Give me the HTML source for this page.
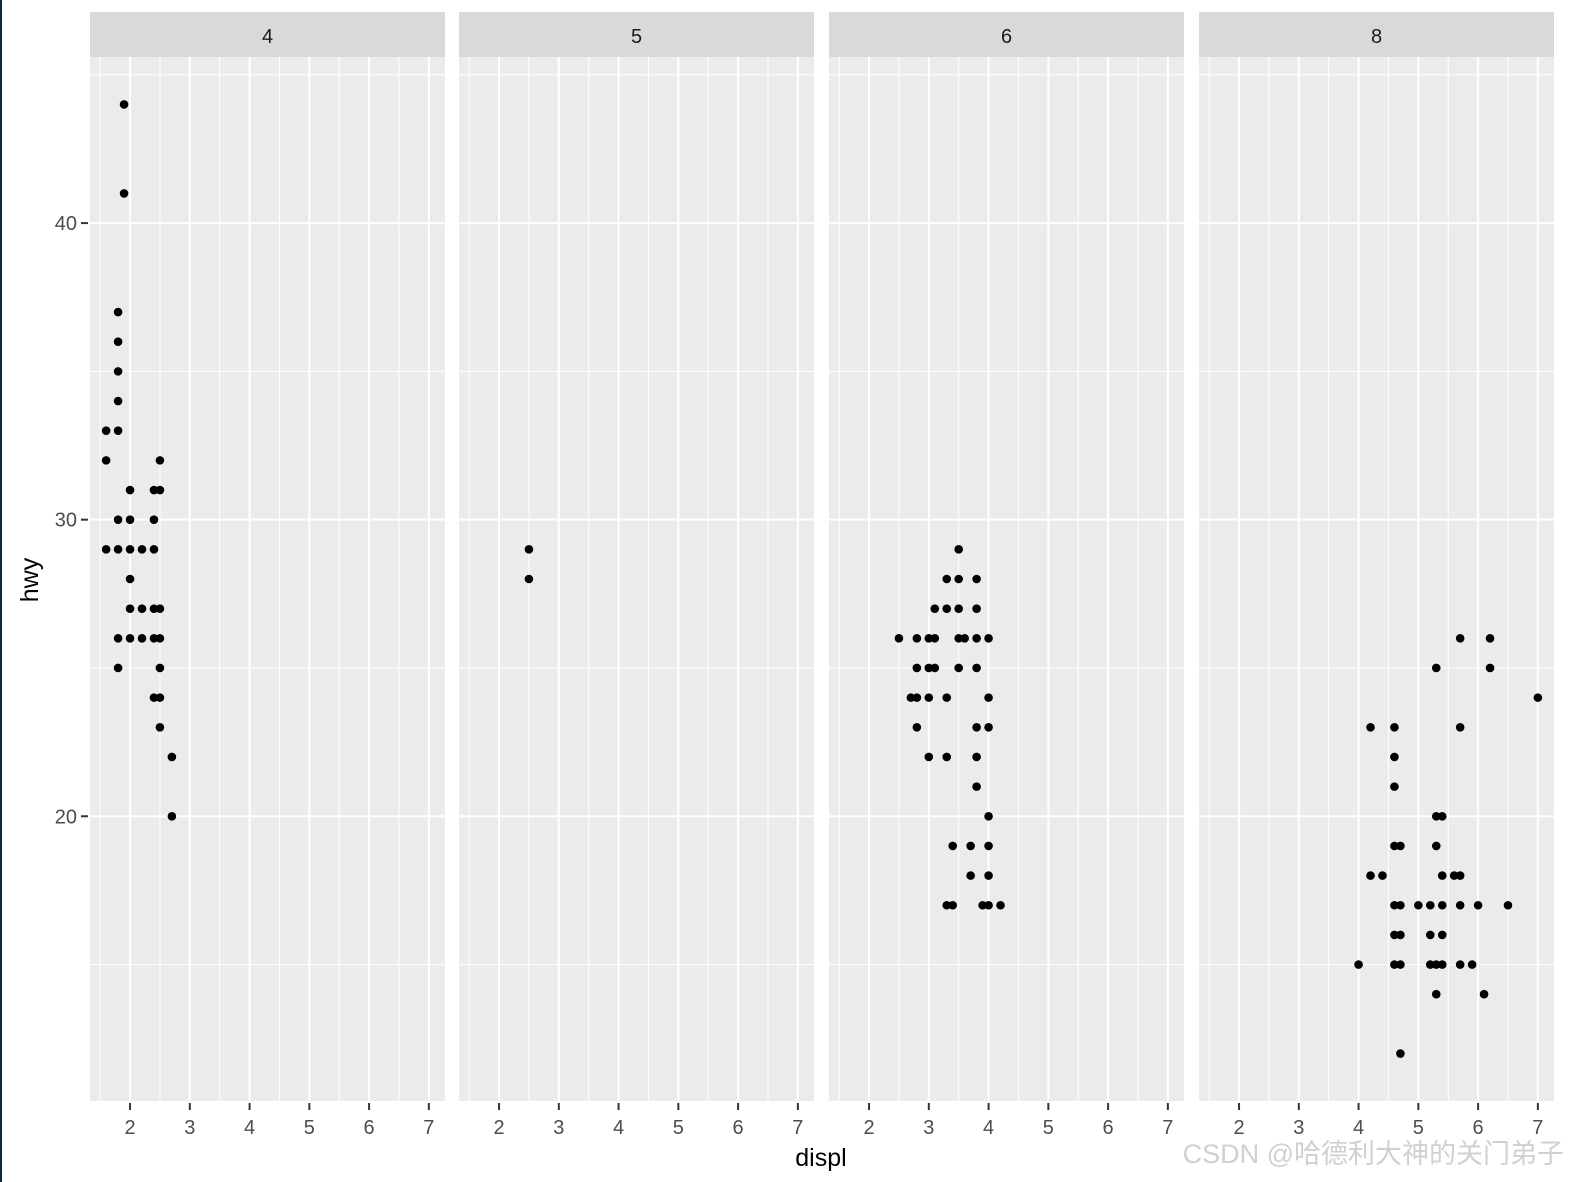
<!DOCTYPE html>
<html><head><meta charset="utf-8">
<style>
html,body{margin:0;padding:0;background:#fff;}
svg{display:block;font-family:"Liberation Sans","Noto Sans CJK SC",sans-serif;}
</style></head>
<body>
<svg id="chart" width="1572" height="1182" viewBox="0 0 1572 1182" xmlns="http://www.w3.org/2000/svg">
<rect x="0" y="0" width="2" height="1182" fill="#0f2a44"/>
</svg>
<script>
const facets = ["4","5","6","8"];
const displ4 = [1.9,1.9,1.8,1.8,1.8,1.8,1.6,1.8,1.6,2.5,2.0,2.4,2.5,1.8,2.0,2.4,1.6,1.8,2.0,2.2,2.4,2.0,2.0,2.2,2.4,2.5,1.8,2.0,2.2,2.4,2.5,1.8,2.5,2.4,2.5,2.5,2.7,2.7];
const hwy4   = [44,41,37,36,35,34,33,33,32,32,31,31,31,30,30,30,29,29,29,29,29,28,27,27,27,27,26,26,26,26,26,25,25,24,24,23,22,20];
const displ5 = [2.5,2.5];
const hwy5   = [29,28];
const displ6 = [2.5,2.7,2.8,2.8,2.8,2.8,3.0,3.0,3.0,3.0,3.1,3.1,3.1,3.3,3.3,3.3,3.3,3.3,3.4,3.4,3.5,3.5,3.5,3.5,3.5,3.6,3.7,3.7,3.8,3.8,3.8,3.8,3.8,3.8,3.8,3.9,4.0,4.0,4.0,4.0,4.0,4.0,4.0,4.2];
const hwy6   = [26,24,26,25,24,23,26,25,24,22,27,26,25,28,27,24,22,17,17,19,29,28,27,26,25,26,19,18,28,27,26,25,23,22,21,17,26,24,23,20,19,18,17,17];
const displ8 = [4.0,4.2,4.2,4.4,4.6,4.6,4.6,4.6,4.6,4.6,4.6,4.7,4.7,4.7,4.7,4.7,5.0,5.2,5.2,5.2,5.3,5.3,5.3,5.3,5.3,5.4,5.4,5.4,5.4,5.4,5.6,5.7,5.7,5.7,5.7,5.7,5.9,6.0,6.1,6.2,6.2,6.5,7.0];
const hwy8   = [15,23,18,18,23,22,21,19,17,16,15,19,17,16,15,12,17,17,16,15,25,20,19,15,14,20,18,17,16,15,18,26,23,18,17,15,15,17,14,26,25,17,24];
const xTicks = [2,3,4,5,6,7];
const yTicks = [20,30,40];
const xMinor = [1.5,2.5,3.5,4.5,5.5,6.5];
const yMinor = [15,25,35,45];

const NS = "http://www.w3.org/2000/svg";
const svg = document.getElementById("chart");
const panelLeft = [90,459,829,1199];
const panelW = 355, plotTop = 57, plotBottom = 1101;
const xDom = [1.33,7.27], yDom = [10.4,45.6];
function xs(i,v){return panelLeft[i] + (v-xDom[0])/(xDom[1]-xDom[0])*panelW;}
function ys(v){return plotBottom - (v-yDom[0])/(yDom[1]-yDom[0])*(plotBottom-plotTop);}
function mk(tag,attrs){const e=document.createElementNS(NS,tag);for(const k in attrs)e.setAttribute(k,attrs[k]);svg.appendChild(e);return e;}
const dx=[displ4,displ5,displ6,displ8], dy=[hwy4,hwy5,hwy6,hwy8];

facets.forEach((f,i)=>{
  const L=panelLeft[i];
  let r=mk("rect",{x:L,y:plotTop,width:panelW,height:plotBottom-plotTop,fill:"#ebebeb"});
  
  
  let s=mk("rect",{x:L,y:12,width:panelW,height:45,fill:"#d9d9d9"});
  
  
  let st=mk("text",{x:L+panelW/2,y:43,"text-anchor":"middle","font-size":"20",fill:"#1a1a1a"});
  st.textContent=f;
  
  
  yMinor.forEach(v=>{const y=ys(v);if(y<plotTop)return;const g=mk("line",{x1:L,x2:L+panelW,y1:y,y2:y,stroke:"#fff","stroke-width":"1"});
    
    });
  xMinor.forEach(v=>{const x=xs(i,v);const g=mk("line",{x1:x,x2:x,y1:plotTop,y2:plotBottom,stroke:"#fff","stroke-width":"1"});
    
    });
  yTicks.forEach(v=>{const y=ys(v);const g=mk("line",{x1:L,x2:L+panelW,y1:y,y2:y,stroke:"#fff","stroke-width":"2"});
    
    });
  xTicks.forEach(v=>{const x=xs(i,v);const g=mk("line",{x1:x,x2:x,y1:plotTop,y2:plotBottom,stroke:"#fff","stroke-width":"2"});
    
    
    const t=mk("line",{x1:x,x2:x,y1:plotBottom+2,y2:plotBottom+9,stroke:"#333","stroke-width":"2"});
    
    
    const tl=mk("text",{x:x,y:1134,"text-anchor":"middle","font-size":"20",fill:"#4d4d4d"});
    tl.textContent=String(v);
    
    });
  dx[i].forEach((v,j)=>{const c=mk("circle",{cx:xs(i,v),cy:ys(dy[i][j]),r:"4.3",fill:"#000"});
    
    });
});
yTicks.forEach(v=>{const y=ys(v);
  const t=mk("line",{x1:81,x2:88,y1:y,y2:y,stroke:"#333","stroke-width":"2"});
  
  
  const tl=mk("text",{x:77,y:y+7,"text-anchor":"end","font-size":"20",fill:"#4d4d4d"});
  tl.textContent=String(v);
  
  });
const xt=mk("text",{x:821,y:1166,"text-anchor":"middle","font-size":"25",fill:"#000"});
xt.textContent="displ";


const yt=mk("text",{x:0,y:0,"text-anchor":"middle","font-size":"25",fill:"#000",transform:"translate(38,580) rotate(-90)"});
yt.textContent="hwy";


const wm=mk("text",{x:1564,y:1163,"text-anchor":"end","font-size":"27",fill:"#c8c8c8","fill-opacity":"0.85"});
wm.textContent="CSDN @哈德利大神的关门弟子";


</script>
</body></html>
